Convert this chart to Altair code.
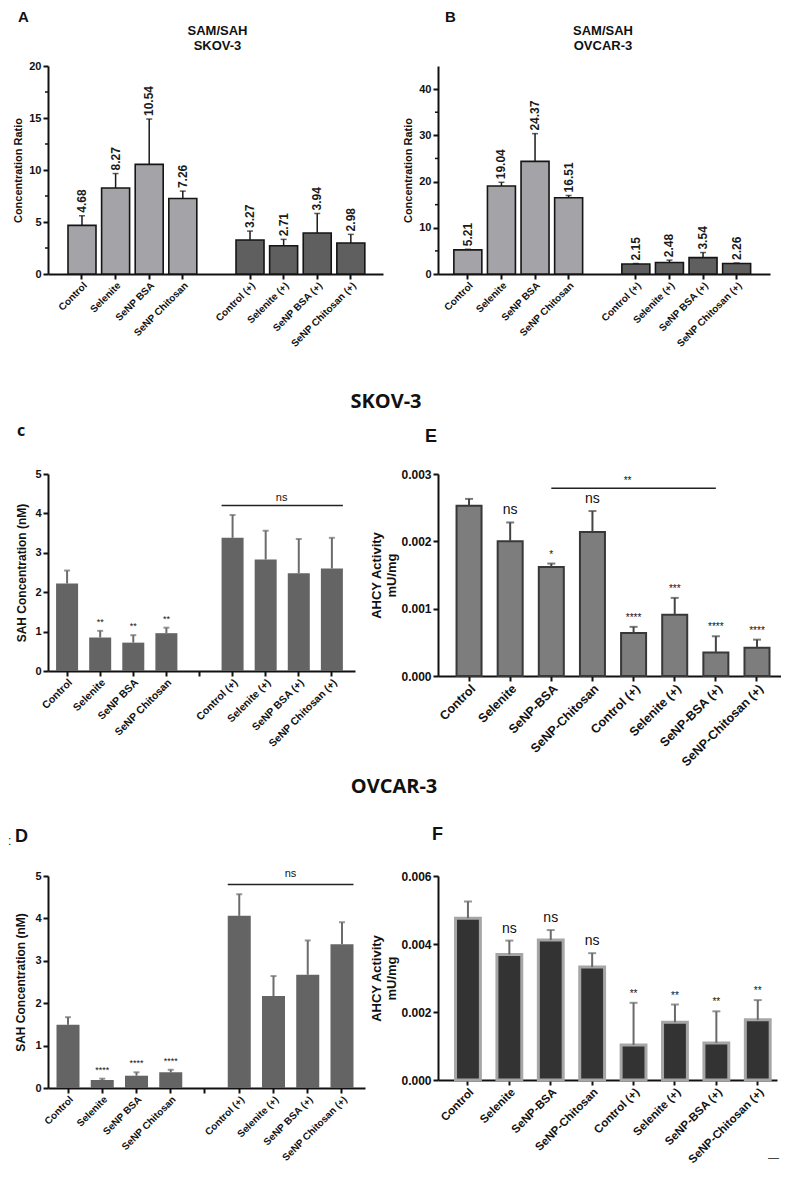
import altair as alt
import pandas as pd

FONT = "Liberation Sans"
HEAD = "Open Sans"
INK = "#111111"

# ---------------- A / B : SAM/SAH concentration ratio ----------------
ab_slots = ["Control", "Selenite", "SeNP BSA", "SeNP Chitosan", " ",
            "Control (+)", "Selenite (+)", "SeNP BSA (+)", "SeNP Chitosan (+)"]
ab_bars = ["Control", "Selenite", "SeNP BSA", "SeNP Chitosan",
           "Control (+)", "Selenite (+)", "SeNP BSA (+)", "SeNP Chitosan (+)"]
ab_group = ["plain", "plain", "plain", "plain", "plus", "plus", "plus", "plus"]

a_ratio = [4.68, 8.27, 10.54, 7.26, 3.27, 2.71, 3.94, 2.98]
a_sd = [0.92, 1.39, 4.36, 0.71, 0.86, 0.62, 1.88, 0.83]
a_ticks = [0, 5, 10, 15, 20]
a_minor = [2.5, 7.5, 12.5, 17.5]

b_ratio = [5.21, 19.04, 24.37, 16.51, 2.15, 2.48, 3.54, 2.26]
b_sd = [0.15, 0.80, 6.00, 0.50, 0.12, 0.52, 1.10, 0.12]
b_ticks = [0, 10, 20, 30, 40]
b_minor = [5, 15, 25, 35]

# ---------------- C / D : SAH concentration (nM) ----------------
cd_ticks = [0, 1, 2, 3, 4, 5]
c_sah = [2.22, 0.85, 0.72, 0.96, 3.38, 2.83, 2.48, 2.60]
c_sd = [0.33, 0.17, 0.19, 0.14, 0.58, 0.73, 0.87, 0.78]
c_sig = ["", "**", "**", "**", "", "", "", ""]
c_bracket = ["Control (+)", "SeNP Chitosan (+)", 4.2, "ns"]

d_sah = [1.49, 0.19, 0.29, 0.37, 4.06, 2.17, 2.67, 3.39]
d_sd = [0.18, 0.03, 0.08, 0.06, 0.51, 0.47, 0.81, 0.52]
d_sig = ["", "****", "****", "****", "", "", "", ""]
d_bracket = ["Control (+)", "SeNP Chitosan (+)", 4.8, "ns"]

# ---------------- E / F : AHCY activity (mU/mg) ----------------
ef_bars = ["Control", "Selenite", "SeNP-BSA", "SeNP-Chitosan",
           "Control (+)", "Selenite (+)", "SeNP-BSA (+)", "SeNP-Chitosan (+)"]
e_act = [0.00253, 0.00200, 0.00162, 0.00214, 0.00064, 0.00091, 0.00035, 0.00042]
e_sd = [0.00010, 0.00028, 0.00005, 0.00031, 0.00009, 0.00025, 0.00024, 0.00012]
e_sig = ["", "ns", "*", "ns", "****", "***", "****", "****"]
e_ticks = [0, 0.001, 0.002, 0.003]
e_bracket = ["SeNP-BSA", "SeNP-BSA (+)", 0.00279, "**"]

f_act = [0.00476, 0.00369, 0.00412, 0.00332, 0.00103, 0.00170, 0.00109, 0.00177]
f_sd = [0.00049, 0.00041, 0.00029, 0.00041, 0.00124, 0.00052, 0.00093, 0.00058]
f_sig = ["", "ns", "ns", "ns", "**", "**", "**", "**"]
f_ticks = [0, 0.002, 0.004, 0.006]


def frame(cats, vals, sds, sig=None, grp=None):
    n = len(cats)
    return pd.DataFrame({
        "cat": cats,
        "val": vals,
        "top": [round(v + s, 7) for v, s in zip(vals, sds)],
        "sig": list(sig) if sig else [""] * n,
        "grp": list(grp) if grp else ["all"] * n,
    })


class Panel:
    def __init__(self, slots, pad, ymax, xvals, xsize, yvals, yfmt, ytitle,
                 ysize, ytsize, ytpad):
        self.slots = slots
        self.pad = pad
        self.ymax = ymax
        self.xa = alt.Axis(values=xvals, title=None, labelAngle=-45, labelAlign="right",
                           labelBaseline="top", labelFontSize=xsize, labelPadding=1)
        self.ya = alt.Axis(values=yvals, format=yfmt, title=ytitle, labelFontSize=ysize,
                           titleFontSize=ytsize, titlePadding=ytpad, labelPadding=2,
                           titleLineHeight=15)

    def x(self, field="cat", band=None):
        pi, po, al = self.pad
        kw = {"bandPosition": band} if band is not None else {}
        return alt.X(f"{field}:N", axis=self.xa,
                     scale=alt.Scale(domain=self.slots, paddingInner=pi,
                                     paddingOuter=po, align=al), **kw)

    def y(self, field="val"):
        return alt.Y(f"{field}:Q", axis=self.ya,
                     scale=alt.Scale(domain=[0, self.ymax], nice=False))

    def bars(self, df, bar_mark, err_color, err_w, cap, fill=None):
        enc = {"x": self.x(), "y": self.y()}
        if fill is not None:
            enc["fill"] = fill
        base = alt.Chart(df)
        b = base.mark_bar(**bar_mark).encode(**enc)
        e = base.mark_rule(color=err_color, strokeWidth=err_w).encode(
            x=self.x(), y=self.y(), y2=alt.Y2("top"))
        c = base.mark_tick(color=err_color, thickness=err_w, size=cap).encode(
            x=self.x(), y=self.y("top"))
        return [b, e, c]

    def sig(self, df, ns_size, star_size, ns_dy, star_dy):
        base = alt.Chart(df)
        ns = base.transform_filter("datum.sig == 'ns'").mark_text(
            font=FONT, fontSize=ns_size, color=INK, baseline="alphabetic", dy=ns_dy).encode(
            x=self.x(), y=self.y("top"), text="sig:N")
        st = base.transform_filter("datum.sig != 'ns' && datum.sig != ''").mark_text(
            font=FONT, fontSize=star_size, color=INK, baseline="alphabetic", dy=star_dy).encode(
            x=self.x(), y=self.y("top"), text="sig:N")
        return [ns, st]

    def bracket(self, spec, b0, b1, label_cat, dx, dy, size):
        start, end, yval, text = spec
        df = pd.DataFrame({"start": [start], "end": [end], "val": [yval],
                           "mid": [label_cat], "t": [text]})
        line = alt.Chart(df).mark_rule(color="#222222", strokeWidth=1.5).encode(
            x=self.x("start", band=b0), x2=alt.X2("end", bandPosition=b1), y=self.y())
        lab = alt.Chart(df).mark_text(font=FONT, fontSize=size, color=INK,
                                      baseline="alphabetic", dx=dx, dy=dy).encode(
            x=self.x("mid"), y=self.y(), text="t:N")
        return [line, lab]

    def minor(self, values):
        return alt.Chart(pd.DataFrame({"val": values})).mark_rule(
            color=INK, strokeWidth=1.5).encode(
            y=self.y(), x=alt.value(-3), x2=alt.value(0))

    def values(self, df):
        return alt.Chart(df).mark_text(
            angle=270, align="left", baseline="middle", dx=3, font=FONT,
            fontWeight="bold", fontSize=12, color="#1a1a1a").encode(
            x=self.x(), y=self.y("top"), text=alt.Text("val:Q", format=".2f"))


def note(text, x, y, size, font=FONT, weight="bold", align="left", baseline="alphabetic"):
    return alt.Chart(pd.DataFrame({"t": [text]})).mark_text(
        font=font, fontSize=size, fontWeight=weight, color=INK, align=align,
        baseline=baseline).encode(text="t:N", x=alt.value(x), y=alt.value(y))


fill_ab = alt.Fill("grp:N", scale=alt.Scale(domain=["plain", "plus"],
                                            range=["#a4a4a8", "#5f5f5f"]), legend=None)
ab_bar_mark = dict(stroke="#151515", strokeWidth=1.6)

# ---- Panel A ----
pA = Panel(ab_slots, (0.167, 0.568, 0.524), 20, ab_bars, 10, a_ticks, "d",
           "Concentration Ratio", 11, 11, 5)
dfA = frame(ab_bars, a_ratio, a_sd, grp=ab_group)
chartA = alt.layer(
    *pA.bars(dfA, ab_bar_mark, "#1a1a1a", 1.5, 6, fill=fill_ab),
    pA.values(dfA),
    pA.minor(a_minor),
    note("A", -30, -44, 15),
    note("SAM/SAH", 169.5, -31, 13, align="center"),
    note("SKOV-3", 169.5, -16, 13, align="center"),
).properties(width=335, height=208)

# ---- Panel B ----
pB = Panel(ab_slots, (0.167, 0.524, 0.45), 45, ab_bars, 10, b_ticks, "d",
           "Concentration Ratio", 11, 11, 5)
dfB = frame(ab_bars, b_ratio, b_sd, grp=ab_group)
chartB = alt.layer(
    *pB.bars(dfB, ab_bar_mark, "#1a1a1a", 1.5, 6, fill=fill_ab),
    pB.values(dfB),
    pB.minor(b_minor),
    note("B", 7, -44, 15),
    note("SAM/SAH", 165, -31, 13, align="center"),
    note("OVCAR-3", 165, -16, 13, align="center"),
).properties(width=332, height=208)

# ---- Panel C ----
pC = Panel(ab_slots, (0.335, 0.305, 0.40), 5, ab_slots, 10.5, cd_ticks, "d",
           "SAH Concentration (nM)", 11, 12, 6)
dfC = frame(ab_bars, c_sah, c_sd, sig=c_sig)
chartC = alt.layer(
    *pC.bars(dfC, dict(fill="#646464"), "#6c6c6c", 2, 6),
    *pC.sig(dfC, 11, 9, -8, -6),
    *pC.bracket(c_bracket, 0, 1, "Selenite (+)", 16, -4.5, 11),
    note("c", -31, -38.5, 16, font=HEAD),
    note("SKOV-3", 338, -66.5, 20, font=HEAD, align="center"),
).properties(width=307, height=197)

# ---- Panel E ----
pE = Panel(ef_bars, (0.392, 0.365, 0.617), 0.003, ef_bars, 12.5, e_ticks, ".3f",
           ["AHCY Activity", "mU/mg"], 12, 13, 2)
dfE = frame(ef_bars, e_act, e_sd, sig=e_sig)
chartE = alt.layer(
    *pE.bars(dfE, dict(fill="#7d7d7d", stroke="#383838", strokeWidth=2), "#444444", 2, 8),
    *pE.sig(dfE, 14, 10, -8, -6),
    *pE.bracket(e_bracket, 0.5, 0.5, "Control (+)", -6, -4, 10),
    note("E", -13, -32, 18),
).properties(width=343, height=202)

# ---- Panel D ----
pD = Panel(ab_slots, (0.328, 0.292, 0.425), 5, ab_slots, 10, cd_ticks, "d",
           "SAH Concentration (nM)", 11, 12, 7)
dfD = frame(ab_bars, d_sah, d_sd, sig=d_sig)
chartD = alt.layer(
    *pD.bars(dfD, dict(fill="#646464"), "#6c6c6c", 2, 6),
    *pD.sig(dfD, 11, 9, -8, -6),
    *pD.bracket(d_bracket, 0, 1, "Selenite (+)", 17, -7, 11),
    note("D", -33, -34, 18),
    note(":", -40, -31, 12, weight="normal"),
    note("OVCAR-3", 346, -83, 20, font=HEAD, align="center"),
).properties(width=317, height=212)

# ---- Panel F ----
pF = Panel(ef_bars, (0.40, 0.294, 0.72), 0.006, ef_bars, 11.5, f_ticks, ".3f",
           ["AHCY Activity", "mU/mg"], 12, 13, 2)
dfF = frame(ef_bars, f_act, f_sd, sig=f_sig)
chartF = alt.layer(
    *pF.bars(dfF, dict(fill="#333333", stroke="#a6a6a6", strokeWidth=3), "#6a6a6a", 2, 8),
    *pF.sig(dfF, 14, 10, -8, -6),
    note("F", -6, -36, 18),
    note("\u2014", 330, 282, 11, weight="normal", baseline="middle"),
).properties(width=339, height=204)


chart = alt.concat(
    chartA, chartB,
    chartC, chartE,
    chartD, chartF,
    columns=2,
    spacing={"row": 200, "column": 55},
    bounds="flush",
    center={"row": True, "column": False},
).properties(
    padding={"left": 0, "top": 2, "right": 0, "bottom": 0}, background="white"
).configure_view(
    stroke=None
).configure_axis(
    domainColor=INK, domainWidth=2, tickColor=INK, tickWidth=2, tickSize=5,
    labelColor=INK, labelFont=FONT, labelFontWeight="bold",
    titleFont=FONT, titleFontWeight="bold", titleColor=INK,
    grid=False, labelOverlap=False,
)

chart.save("out.html", embed_options={"renderer": "svg", "actions": False})
